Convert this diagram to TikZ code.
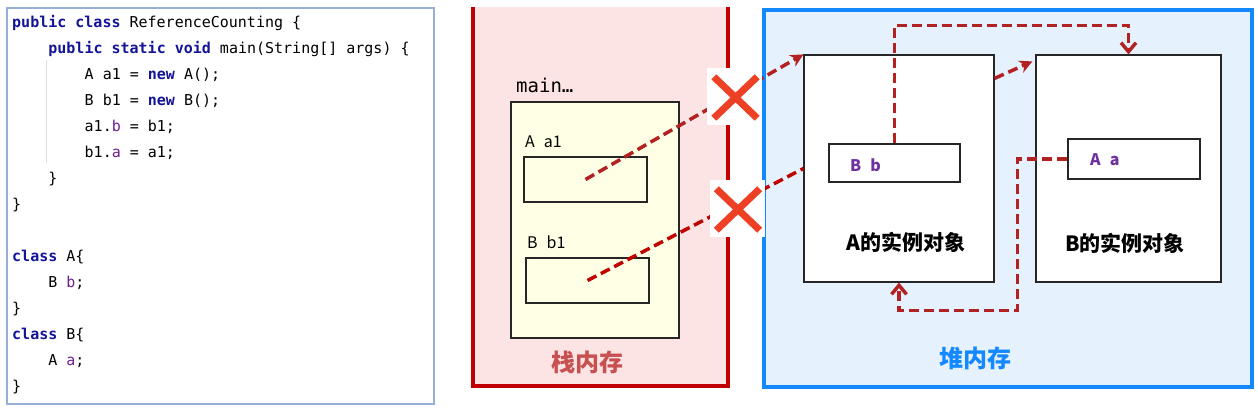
\documentclass[tikz,border=0pt]{standalone}
\usepackage{fontspec}
\setmonofont{DejaVu Sans Mono}
\newfontfamily\cjk{Noto Sans CJK SC}
\usetikzlibrary{arrows.meta,positioning}
\definecolor{kwblue}{RGB}{20,20,150}
\definecolor{fldpurple}{RGB}{112,30,145}
\definecolor{lblpurple}{RGB}{112,48,160}
\definecolor{codeframe}{RGB}{150,175,215}
\definecolor{stackfill}{RGB}{253,228,228}
\definecolor{stackred}{RGB}{192,0,0}
\definecolor{stacktext}{RGB}{200,80,80}
\definecolor{heapfill}{RGB}{229,241,253}
\definecolor{heapblue}{RGB}{20,137,255}
\definecolor{framefill}{RGB}{255,255,229}
\definecolor{refred}{RGB}{178,34,34}
\definecolor{crossred}{RGB}{238,64,36}
\newcommand{\kw}[1]{\textbf{\textcolor{kwblue}{#1}}}
\newcommand{\fld}[1]{\textcolor{fldpurple}{#1}}
\newcommand{\gap}{\hspace{9pt}}
\tikzset{
  codeln/.style={anchor=base west, inner sep=0pt, font=\ttfamily\fontsize{15}{18}\selectfont},
  cell/.style={draw=black!85, line width=1.2pt, inner sep=0pt},
  varlbl/.style={anchor=west, inner sep=0pt, font=\cjk\fontsize{16}{16}\selectfont},
  fldlbl/.style={anchor=west, inner sep=0pt, text=lblpurple, font=\cjk\bfseries\fontsize{16}{16}\selectfont},
  objlbl/.style={inner sep=0pt, font=\cjk\bfseries\fontsize{21}{21}\selectfont},
  memlbl/.style={inner sep=0pt, font=\cjk\bfseries\fontsize{24}{24}\selectfont},
  refarr/.style={draw=refred, line width=3.5pt, dash pattern=on 10pt off 5pt},
  xbox/.style={fill=white, inner sep=0pt, minimum width=55pt, minimum height=57pt},
  xline/.style={draw=crossred, line width=7pt}
}

\begin{document}
\begin{tikzpicture}[x=1pt, y=-1pt]
\useasboundingbox (0,0) rectangle (1258,407);

% code panel
\node[draw=codeframe, line width=1.2pt, minimum width=427pt, minimum height=396pt, inner sep=0pt] (code) at (220.5,206) {};
\draw[black!12, line width=1pt] (46,60) -- (46,163);
\node[codeln] (c1) at (12,27) {\kw{public} \kw{class} ReferenceCounting \{};
\node[codeln] (c2) at (48.2,53) {\kw{public} \kw{static} \kw{void} main(String[] args) \{};
\node[codeln] (c3) at (84.5,79) {A a1 = \kw{new} A();};
\node[codeln] (c4) at (84.5,105) {B b1 = \kw{new} B();};
\node[codeln] (c5) at (84.5,131) {a1.\fld{b} = b1;};
\node[codeln] (c6) at (84.5,157) {b1.\fld{a} = a1;};
\node[codeln] (c7) at (48.2,183) {\}};
\node[codeln] (c8) at (12,209) {\}};
\node[codeln] (c9) at (12,261) {\kw{class} A\{};
\node[codeln] (c10) at (48.2,287) {B \fld{b};};
\node[codeln] (c11) at (12,313) {\}};
\node[codeln] (c12) at (12,339) {\kw{class} B\{};
\node[codeln] (c13) at (48.2,365) {A \fld{a};};
\node[codeln] (c14) at (12,391) {\}};

% stack
\fill[stackfill] (473,7) rectangle (728,386);
\draw[stackred, line width=3.5pt] (473,7) -- (473,386) -- (728,386) -- (728,7);
\node[anchor=west, inner sep=0pt, font=\ttfamily\fontsize{19}{19}\selectfont] (mainlbl) at (516,85) {main…};
\node[cell, fill=framefill, minimum width=168pt, minimum height=236pt] (frame) at (595,220) {};
\node[varlbl] (a1lbl) at (525,142) {A\gap a1};
\node[cell, minimum width=123pt, minimum height=45pt] (a1) at (585.5,179.5) {};
\node[varlbl] (b1lbl) at (527,242) {B\gap b1};
\node[cell, minimum width=123pt, minimum height=45pt] (b1) at (587.5,280.5) {};
\node[memlbl, text=stacktext] (stacklbl) at (587,362) {栈内存};

% heap
\node[draw=heapblue, fill=heapfill, line width=3.5pt, minimum width=488pt, minimum height=377pt, inner sep=0pt] (heap) at (1008,198.5) {};
\node[cell, fill=white, minimum width=190pt, minimum height=227pt] (objA) at (899,168.5) {};
\node[cell, fill=white, minimum width=185pt, minimum height=227pt] (objB) at (1128.5,168.5) {};
\node[cell, minimum width=131pt, minimum height=38pt] (bb) at (894.5,163) {};
\node[fldlbl] (bblbl) at (850,165) {B\gap b};
\node[cell, minimum width=132pt, minimum height=40pt] (aa) at (1134,159) {};
\node[fldlbl] (aalbl) at (1090,160) {A\gap a};
\node[objlbl] (objAlbl) at (906,242) {A的实例对象};
\node[objlbl] (objBlbl) at (1125,243) {B的实例对象};
\node[memlbl, text=heapblue] (heaplbl) at (975,358) {堆内存};

% references
\draw[refarr, -{Stealth[length=13pt,width=13pt]}] (a1.center) -- (objA.north west);
\draw[refarr, draw=stackred] (b1.center) -- (objA.west);
\draw[refarr, -{Stealth[length=13pt,width=13pt]}] ([yshift=-24pt]objA.north east) -- ([xshift=-3pt,yshift=-7pt]objB.north west);
\draw[refarr, -{Straight Barb[length=9pt,width=15pt]}] (bb.north) |- ([yshift=29pt]objB.north) -- (objB.north);
\draw[refarr, -{Straight Barb[length=9pt,width=15pt]}] (aa.west) -- ++(-50,0) |- ([yshift=-28pt]objA.south) -- (objA.south);

% crosses
\node[xbox] (x1) at (734.5,96.5) {};
\draw[xline] ([xshift=7pt,yshift=-9pt]x1.north west) -- ([xshift=-5pt,yshift=7pt]x1.south east);
\draw[xline] ([xshift=-5pt,yshift=-9pt]x1.north east) -- ([xshift=7pt,yshift=7pt]x1.south west);
\node[xbox] (x2) at (737,208.5) {};
\draw[xline] ([xshift=7pt,yshift=-9pt]x2.north west) -- ([xshift=-5pt,yshift=7pt]x2.south east);
\draw[xline] ([xshift=-5pt,yshift=-9pt]x2.north east) -- ([xshift=7pt,yshift=7pt]x2.south west);
\end{tikzpicture}
\end{document}
